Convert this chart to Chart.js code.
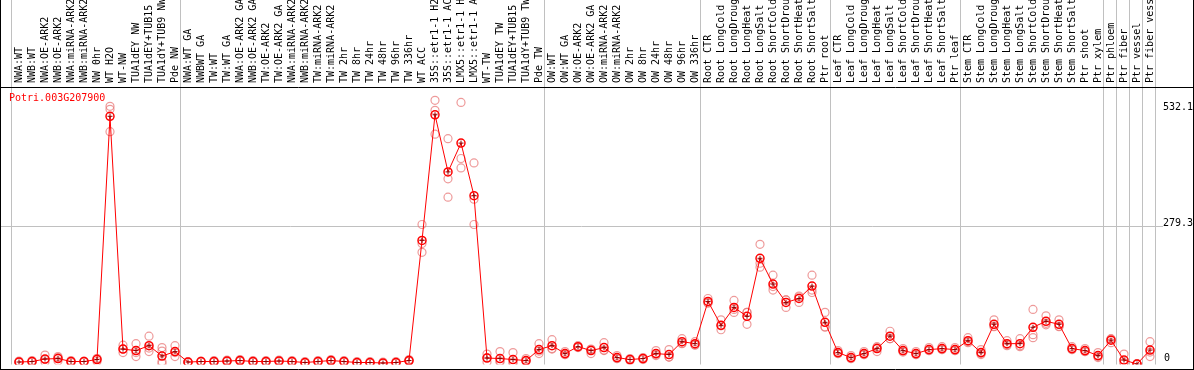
<!DOCTYPE html>
<html>
<head>
<meta charset="utf-8">
<script src="https://cdn.jsdelivr.net/npm/chart.js@4"></script>
<style>
  html, body { margin: 0; padding: 0; background: #fff; }
  #wrap { width: 1194px; height: 370px; position: relative; }
</style>
</head>
<body>
<div id="wrap"><canvas id="chart"></canvas></div>
<script>
/* --- data --- */
const geneId = 'Potri.003G207900';

const samples = [
  'NWA:WT', 'NWB:WT', 'NWA:OE-ARK2', 'NWB:OE-ARK2', 'NWA:miRNA-ARK2', 'NWB:miRNA-ARK2', 'NW 0hr', 'WT H2O', 'WT-NW',
  'TUA1dEY NW', 'TUA1dEY+TUB15', 'TUA1dY+TUB9 NW', 'Pde NW',
  'NWA:WT GA', 'NWBWT GA', 'TW:WT', 'TW:WT GA', 'NWA:OE-ARK2 GA', 'NWB:OE-ARK2 GA', 'TW:OE-ARK2', 'TW:OE-ARK2 GA',
  'NWA:miRNA-ARK2', 'NWB:miRNA-ARK2', 'TW:miRNA-ARK2', 'TW:miRNA-ARK2', 'TW 2hr', 'TW 8hr', 'TW 24hr', 'TW 48hr',
  'TW 96hr', 'TW 336hr', 'WT ACC', '35S::etr1-1 H2O', '35S::etr1-1 ACC', 'LMX5::etr1-1 H2O', 'LMX5::etr1-1 ACC',
  'WT-TW', 'TUA1dEY TW', 'TUA1dEY+TUB15', 'TUA1dY+TUB9 TW', 'Pde TW',
  'OW:WT', 'OW:WT GA', 'OW:OE-ARK2', 'OW:OE-ARK2 GA', 'OW:miRNA-ARK2', 'OW:miRNA-ARK2', 'OW 2hr', 'OW 8hr',
  'OW 24hr', 'OW 48hr', 'OW 96hr', 'OW 336hr',
  'Root CTR', 'Root LongCold', 'Root LongDrought', 'Root LongHeat', 'Root LongSalt', 'Root ShortCold',
  'Root ShortDrought', 'Root ShortHeat', 'Root ShortSalt', 'Ptr root',
  'Leaf CTR', 'Leaf LongCold', 'Leaf LongDrought', 'Leaf LongHeat', 'Leaf LongSalt', 'Leaf ShortCold',
  'Leaf ShortDrought', 'Leaf ShortHeat', 'Leaf ShortSalt', 'Ptr leaf',
  'Stem CTR', 'Stem LongCold', 'Stem LongDrought', 'Stem LongHeat', 'Stem LongSalt', 'Stem ShortCold',
  'Stem ShortDrought', 'Stem ShortHeat', 'Stem ShortSalt', 'Ptr shoot', 'Ptr xylem',
  'Ptr phloem', 'Ptr fiber', 'Ptr vessel', 'Ptr fiber vessel'
];

// mean expression per sample
const means = [
  5, 6, 11, 12, 6, 6, 10, 500, 31, 28, 38, 17, 26,
  5, 6, 6, 7, 8, 6, 6, 7, 6, 4, 6, 8, 6, 4, 4, 3, 4, 8,
  250, 503, 388, 446, 340, 13, 12, 10, 8, 30,
  38, 22, 36, 28, 34, 14, 10, 12, 22, 20, 46, 42,
  127, 79, 115, 97, 214, 162, 125, 133, 158, 85,
  24, 14, 22, 32, 57, 28, 22, 30, 32, 30,
  48, 24, 81, 42, 42, 75, 87, 81, 32, 28, 18,
  49, 9, 1, 29
];

// individual replicates per sample
const replicates = [
  [7, 4, 5], [8, 5, 5], [19, 5, 10], [16, 7, 14], [8, 4, 6], [7, 5, 6], [12, 6, 12], [520, 514, 469],
  [39, 31, 24], [42, 24, 16], [57, 33, 26], [34, 27, 6, 2], [38, 24, 16],
  [6, 4, 4], [7, 5, 6], [8, 5, 5], [9, 6, 6], [10, 7, 7], [8, 5, 5], [8, 5, 5], [9, 6, 6],
  [8, 5, 5], [6, 3, 3], [8, 5, 5], [10, 7, 7], [8, 5, 5], [6, 3, 3], [6, 3, 3], [5, 2, 2], [6, 3, 3], [10, 7, 7],
  [282, 244, 226], [532.1, 512, 464], [455, 374, 337], [528, 415, 396], [406, 333, 282],
  [21, 5, 14], [26, 7, 5], [24, 5, 2], [12, 6, 7], [42, 22, 27],
  [50, 32, 31], [26, 20, 20], [38, 34, 35], [22, 30, 31], [44, 28, 29], [18, 12, 12], [12, 8, 10], [14, 10, 12],
  [28, 18, 20], [30, 15, 15], [52, 42, 43], [46, 39, 40],
  [133, 124, 124], [90, 70, 78], [129, 105, 111], [81, 105, 105], [242, 204, 196], [180, 150, 157],
  [130, 115, 130], [125, 138, 136], [180, 145, 150], [105, 75, 76],
  [28, 22, 22], [18, 12, 12], [26, 20, 20], [26, 36, 34], [67, 52, 52], [32, 25, 27], [26, 20, 20], [34, 28, 28],
  [36, 30, 30], [34, 28, 28],
  [54, 44, 46], [30, 20, 22], [90, 76, 77], [48, 38, 40], [52, 36, 38], [111, 60, 54], [98, 80, 83], [90, 76, 77],
  [36, 30, 30], [32, 26, 26], [24, 14, 16],
  [44, 52, 51], [21, 4, 2], [2, 0, 1], [46, 16, 25]
];

// first sample index of each tissue block (last entry closes the frame)
const groupStarts = [0, 13, 41, 53, 63, 73, 84, 85, 86, 87, 88];
const yTicks = [532.1, 279.3, 0];
const yMax = 557;

/* --- points --- */
const meanPoints = means.map((v, i) => ({ x: i, y: v }));
const repPoints = [];
replicates.forEach((reps, i) => reps.forEach(v => repPoints.push({ x: i, y: v })));

const MONO = '10px "DejaVu Sans Mono", "Liberation Mono", monospace';

/* --- frame, labels, ticks --- */
const framePlugin = {
  id: 'framePlugin',
  beforeDatasetsDraw(chart) {
    const { ctx, chartArea, scales: { x, y } } = chart;
    ctx.save();
    ctx.strokeStyle = '#c0c0c0';
    ctx.lineWidth = 1;
    groupStarts.forEach(i => {
      const px = Math.round(x.getPixelForValue(i) - 8) + 0.5;
      ctx.beginPath(); ctx.moveTo(px, 0); ctx.lineTo(px, chartArea.bottom); ctx.stroke();
    });
    const gy = Math.round(y.getPixelForValue(yTicks[1])) + 0.5;
    ctx.beginPath(); ctx.moveTo(0, gy); ctx.lineTo(1163, gy); ctx.stroke();
    ctx.restore();
  },
  afterDraw(chart) {
    const { ctx, width, scales: { x, y } } = chart;
    ctx.save();
    // black frame
    ctx.strokeStyle = '#000';
    ctx.lineWidth = 1;
    ctx.beginPath();
    ctx.moveTo(0, 87.5); ctx.lineTo(width, 87.5);
    ctx.moveTo(0, 369.5); ctx.lineTo(width, 369.5);
    ctx.moveTo(0.5, 0); ctx.lineTo(0.5, 370);
    ctx.moveTo(width - 0.5, 0); ctx.lineTo(width - 0.5, 370);
    ctx.stroke();

    // sample labels, rotated, reading upward
    ctx.font = MONO;
    ctx.fillStyle = '#000';
    ctx.textAlign = 'left';
    ctx.textBaseline = 'middle';
    samples.forEach((s, i) => {
      ctx.save();
      ctx.translate(x.getPixelForValue(i) + 0.5, 83);
      ctx.rotate(-Math.PI / 2);
      ctx.fillText(s, 0, 0);
      ctx.restore();
    });

    // gene id
    ctx.fillStyle = '#ff0000';
    ctx.textBaseline = 'alphabetic';
    ctx.fillText(geneId, 9, 101);

    // y tick values on the right
    ctx.fillStyle = '#000';
    yTicks.forEach((v, k) => {
      const py = y.getPixelForValue(v);
      if (k === 0) { ctx.textBaseline = 'top'; ctx.fillText(String(v), 1163, py + 2); }
      else if (k === yTicks.length - 1) { ctx.textBaseline = 'alphabetic'; ctx.fillText(String(v), 1164, py - 4); }
      else { ctx.textBaseline = 'alphabetic'; ctx.fillText(String(v), 1163, py); }
    });
    ctx.restore();
  }
};

new Chart(document.getElementById('chart'), {
  type: 'scatter',
  data: {
    datasets: [
      {
        label: 'mean',
        data: meanPoints,
        showLine: true,
        borderColor: '#ff0000',
        borderWidth: 1,
        pointStyle: 'circle',
        pointRadius: 4,
        pointBorderWidth: 1.5,
        pointBorderColor: '#ff0000',
        pointBackgroundColor: 'rgba(0,0,0,0)',
        order: 2
      },
      {
        label: 'mean mark',
        data: meanPoints,
        showLine: false,
        pointStyle: 'cross',
        pointRadius: 2.5,
        pointBorderWidth: 1,
        pointBorderColor: '#900000',
        order: 1
      },
      {
        label: 'replicates',
        data: repPoints,
        showLine: false,
        pointStyle: 'circle',
        pointRadius: 4,
        pointBorderWidth: 1.2,
        pointBorderColor: 'rgba(232,120,120,0.75)',
        pointBackgroundColor: 'rgba(0,0,0,0)',
        order: 3
      }
    ]
  },
  options: {
    responsive: true,
    maintainAspectRatio: false,
    animation: false,
    devicePixelRatio: 1,
    layout: { padding: { left: 12.5, right: 37.5, top: 88, bottom: 1 } },
    plugins: { legend: { display: false }, tooltip: { enabled: false } },
    scales: {
      x: { type: 'linear', min: -0.5, max: samples.length - 0.5, display: false },
      y: { type: 'linear', min: 0, max: yMax, display: false }
    }
  },
  plugins: [framePlugin]
});
</script>
</body>
</html>
